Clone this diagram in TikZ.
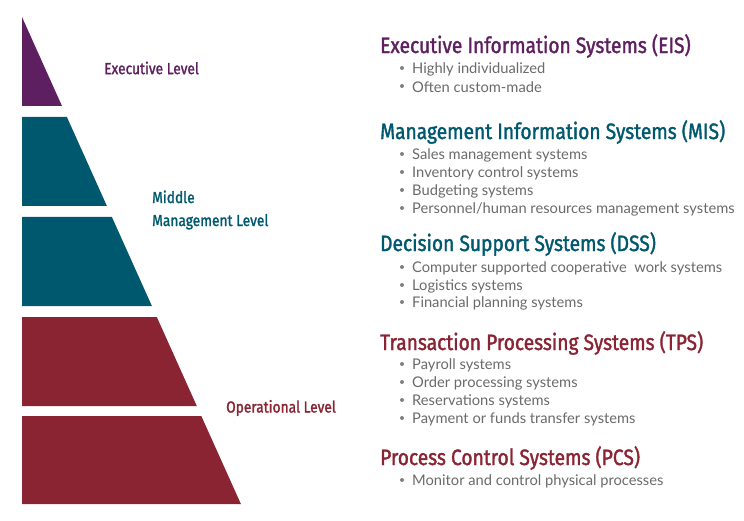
\documentclass[tikz,border=0pt]{standalone}
\usepackage{fontspec}
\setmainfont{Lato}
\newfontfamily\headfont[FakeStretch=0.86,FakeBold=1.5]{Fira Sans}
\definecolor{execpurple}{HTML}{5E1F60}
\definecolor{midteal}{HTML}{00586E}
\definecolor{opred}{HTML}{8A2332}
\definecolor{itemgray}{HTML}{6A6A6A}
\begin{document}
\begin{tikzpicture}[x=1pt,y=-1pt,
  levellabel/.style={anchor=west,inner sep=0pt,font=\headfont\fontsize{16}{23}\selectfont,align=left},
  heading/.style={anchor=west,inner sep=0pt,font=\headfont\fontsize{22.3}{24}\selectfont},
  item/.style={anchor=west,inner sep=0pt,text=itemgray,font=\fontsize{14.7}{16}\selectfont},
  dot/.style={circle,fill=itemgray!85,inner sep=0pt,minimum size=4pt}]
\useasboundingbox (0,0) rectangle (744,521);
% pyramid layers
\fill[execpurple] (22,17) -- (22,106) -- (62,106) -- cycle;
\fill[midteal] (22,117) -- (66.9,117) -- (106.9,206) -- (22,206) -- cycle;
\fill[midteal] (22,217) -- (111.9,217) -- (151.9,306) -- (22,306) -- cycle;
\fill[opred] (22,317) -- (156.8,317) -- (196.8,406) -- (22,406) -- cycle;
\fill[opred] (22,416) -- (201.3,416) -- (240.9,504) -- (22,504) -- cycle;
% level labels
\node[levellabel,text=execpurple] (lexec) at (104,68) {Executive Level};
\node[levellabel,text=midteal] (lmid) at (152,210) {Middle\\Management Level};
\node[levellabel,text=opred] (lop) at (226,408) {Operational Level};
% system groups
\newcommand\sysitem[3]{%
  \node[dot] (d#1) at (402,#2) {};
  \node[item] (t#1) at (412,#2+1.5) {#3};}
\node[heading,text=execpurple] (eis) at (380,46) {Executive Information Systems (EIS)};
\sysitem{a}{68}{Highly individualized}
\sysitem{b}{86}{Often custom-made}
\node[heading,text=midteal] (mis) at (380,132) {Management Information Systems (MIS)};
\sysitem{c}{154}{Sales management systems}
\sysitem{d}{172}{Inventory control systems}
\sysitem{e}{190}{Budgeting systems}
\sysitem{f}{208}{Personnel/human resources management systems}
\node[heading,text=midteal] (dss) at (380,244) {Decision Support Systems (DSS)};
\sysitem{g}{267}{Computer supported cooperative\ \ work systems}
\sysitem{h}{285}{Logistics systems}
\sysitem{i}{302}{Financial planning systems}
\node[heading,text=opred] (tps) at (380,343) {Transaction Processing Systems (TPS)};
\sysitem{j}{364}{Payroll systems}
\sysitem{k}{382}{Order processing systems}
\sysitem{l}{400}{Reservations systems}
\sysitem{m}{418}{Payment or funds transfer systems}
\node[heading,text=opred] (pcs) at (380,458) {Process Control Systems (PCS)};
\sysitem{n}{480}{Monitor and control physical processes}
\end{tikzpicture}
\end{document}
